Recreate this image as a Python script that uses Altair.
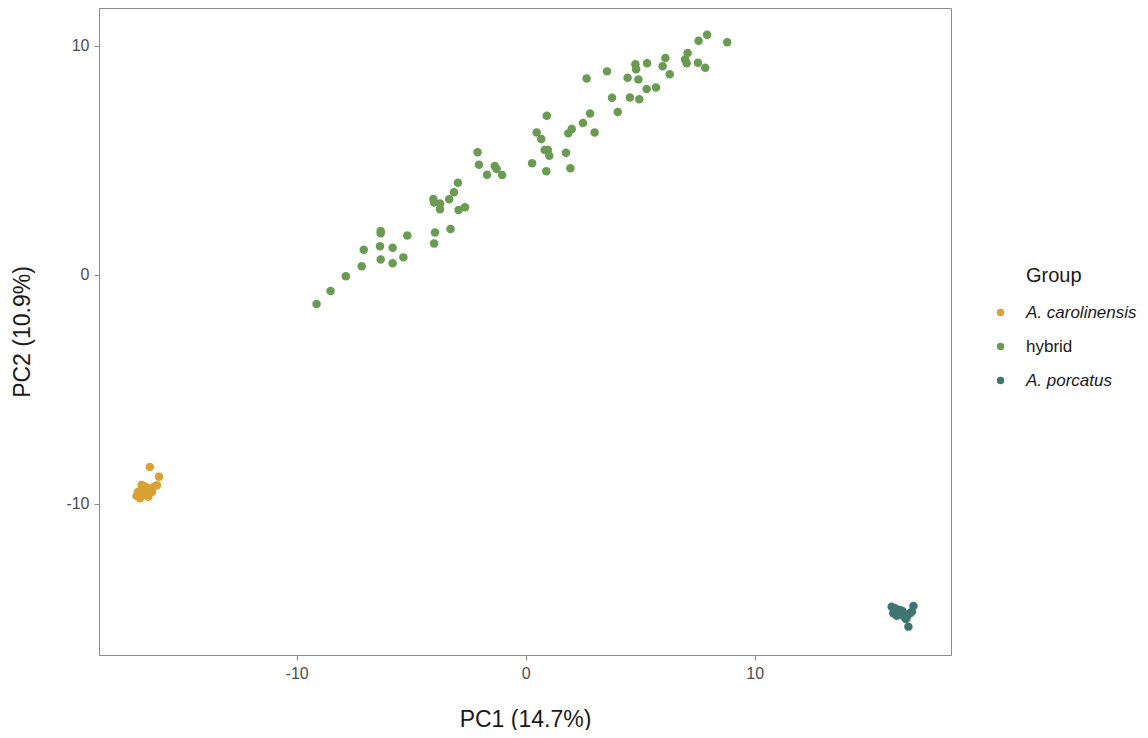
import altair as alt
import pandas as pd

groups = ["A. carolinensis", "hybrid", "A. porcatus"]
colors = ["#D9A232", "#6A9B52", "#3F7571"]
legend_title = ["Group"]

hyb_x = [-9.13, -8.52, -7.85, -7.16, -7.07, -6.33, -6.36, -6.33, -6.33, -5.81,
         -5.81, -5.34, -5.17, -4.00, -3.96, -3.28, -4.03, -4.00, -3.74, -3.74,
         -3.34, -3.13, -2.96, -2.93, -2.65, -2.10, -2.04, -1.69, -1.35, -1.27,
         -1.03, 0.28, 0.48, 0.68, 0.83, 0.97, 1.03, 0.90, 0.92, 1.76,
         1.95, 1.86, 2.01, 2.50, 2.81, 3.01, 2.66, 3.55, 3.77, 4.02,
         4.45, 4.55, 4.79, 4.82, 4.92, 4.96, 5.30, 5.28, 5.69, 5.98,
         6.10, 6.29, 6.96, 7.03, 7.07, 7.52, 7.84, 7.55, 7.92, 8.80]
hyb_y = [-1.28, -0.71, -0.06, 0.37, 1.09, 0.67, 1.25, 1.91, 1.81, 1.18,
         0.50, 0.76, 1.72, 1.37, 1.85, 2.00, 3.31, 3.16, 3.12, 2.86,
         3.30, 3.61, 4.02, 2.83, 2.95, 5.35, 4.81, 4.37, 4.75, 4.62,
         4.36, 4.87, 6.22, 5.93, 5.45, 5.45, 5.20, 4.52, 6.95, 5.33,
         4.66, 6.18, 6.37, 6.63, 7.05, 6.22, 8.58, 8.89, 7.74, 7.11,
         8.61, 7.75, 9.20, 8.98, 8.54, 7.67, 9.24, 8.12, 8.19, 9.11,
         9.47, 8.76, 9.41, 9.24, 9.69, 9.27, 9.05, 10.23, 10.49, 10.16]

car_x = [-16.41, -16.01, -16.99, -16.84, -16.70, -16.48, -16.41, -16.23, -16.55,
         -16.92, -16.77, -16.63, -16.32, -16.10, -16.60, -16.45]
car_y = [-8.40, -8.83, -9.67, -9.77, -9.41, -9.70, -9.34, -9.27, -9.55,
         -9.48, -9.19, -9.24, -9.50, -9.20, -9.62, -9.40]

por_x = [15.98, 16.93, 16.71, 16.05, 16.27, 16.49, 16.78, 16.34, 16.13, 16.64,
         16.86, 16.20, 16.45, 16.60]
por_y = [-14.51, -14.48, -15.38, -14.80, -14.80, -14.92, -14.80, -14.65, -14.58,
         -14.97, -14.73, -14.90, -14.70, -15.05]

rows = []
for x, y in zip(car_x, car_y):
    rows.append({"PC1": x, "PC2": y, "Group": groups[0]})
for x, y in zip(hyb_x, hyb_y):
    rows.append({"PC1": x, "PC2": y, "Group": groups[1]})
for x, y in zip(por_x, por_y):
    rows.append({"PC1": x, "PC2": y, "Group": groups[2]})
df = pd.DataFrame(rows)

FONT = "Liberation Sans"

points = alt.Chart(df).mark_circle(size=72, opacity=1).encode(
    x=alt.X("PC1:Q", title="PC1 (14.7%)",
            scale=alt.Scale(domain=[-18.63, 18.57], nice=False, zero=False),
            axis=alt.Axis(values=[-10, 0, 10], labelExpr="'' + datum.value",
                          grid=False, titlePadding=27)),
    y=alt.Y("PC2:Q", title="PC2 (10.9%)",
            scale=alt.Scale(domain=[-16.62, 11.66], nice=False, zero=False),
            axis=alt.Axis(values=[-10, 0, 10], labelExpr="'' + datum.value",
                          grid=False, titlePadding=31)),
    color=alt.Color("Group:N", title=None,
                    scale=alt.Scale(domain=groups, range=colors),
                    legend=alt.Legend(
                        orient="none", legendX=893, legendY=296,
                        symbolType="circle", symbolSize=55,
                        labelFontStyle=alt.ExprRef("datum.label == 'hybrid' ? 'normal' : 'italic'"),
                        labelOffset=17, rowPadding=16)),
)

title_df = pd.DataFrame({"t": legend_title})
group_title = alt.Chart(title_df).mark_text(
    align="left", baseline="middle", fontSize=20, font=FONT, color="#1a1a1a",
).encode(
    text="t:N", x=alt.value(927), y=alt.value(268),
)

chart = alt.layer(points, group_title).properties(
    width=852, height=647,
    autosize=alt.AutoSizeParams(type="none"),
    padding={"left": 91, "top": 0, "right": 189, "bottom": 75},
).configure_view(
    stroke="#8c8c8c", strokeWidth=1
).configure_axis(
    labelFont=FONT, titleFont=FONT, labelFontSize=16, titleFontSize=23,
    labelColor="#4d4d4d", titleColor="#1a1a1a", titleFontWeight="normal",
    domainColor="#8c8c8c", tickColor="#8c8c8c", tickSize=5, labelPadding=5,
).configure_legend(
    labelFont=FONT, titleFont=FONT, labelFontSize=17, titleFontSize=20,
    labelColor="#1a1a1a", titleColor="#1a1a1a", titleFontWeight="normal",
)

chart.save("out.html", embed_options={"renderer": "svg", "actions": False})
